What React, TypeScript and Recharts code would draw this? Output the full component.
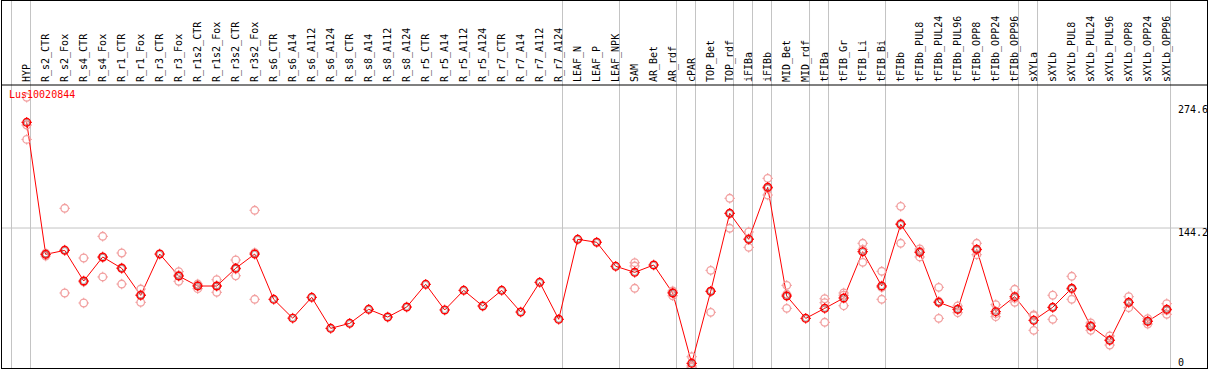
import React from "react";
import { ComposedChart, Line, XAxis, YAxis, ReferenceLine } from "recharts";

// sample groups shown across the top
const categories = [
  "HYP", "R_s2_CTR", "R_s2_Fox", "R_s4_CTR", "R_s4_Fox", "R_r1_CTR", "R_r1_Fox", "R_r3_CTR", "R_r3_Fox",
  "R_r1s2_CTR", "R_r1s2_Fox", "R_r3s2_CTR", "R_r3s2_Fox", "R_s6_CTR", "R_s6_A14", "R_s6_A112", "R_s6_A124",
  "R_s8_CTR", "R_s8_A14", "R_s8_A112", "R_s8_A124", "R_r5_CTR", "R_r5_A14", "R_r5_A112", "R_r5_A124",
  "R_r7_CTR", "R_r7_A14", "R_r7_A112", "R_r7_A124", "LEAF_N", "LEAF_P", "LEAF_NPK", "SAM", "AR_Bet", "AR_rdf",
  "cPAR", "TOP_Bet", "TOP_rdf", "iFIBa", "iFIBb", "MID_Bet", "MID_rdf", "tFIBa", "tFIB_Gr", "tFIB_Li", "tFIB_Bi",
  "tFIBb", "tFIBb_PUL8", "tFIBb_PUL24", "tFIBb_PUL96", "tFIBb_OPP8", "tFIBb_OPP24", "tFIBb_OPP96",
  "sXYLa", "sXYLb", "sXYLb_PUL8", "sXYLb_PUL24", "sXYLb_PUL96", "sXYLb_OPP8", "sXYLb_OPP24", "sXYLb_OPP96",
];

// mean expression per group
const means = [
  256.3, 116.3, 120.5, 88.0, 113.5, 101.5, 72.8, 116.6, 93.3, 82.7, 82.7, 101.5, 116.6, 68.6, 48.6, 70.7, 37.8,
  43.1, 58.0, 49.8, 60.4, 84.5, 57.3, 78.1, 61.5, 78.1, 55.1, 86.6, 47.4, 132.2, 129.1, 103.6, 97.2, 105.0, 75.3,
  0.7, 77.1, 159.8, 132.2, 187.4, 72.1, 48.4, 59.0, 70.0, 119.1, 82.7, 148.1, 118.4, 65.4, 58.0, 121.6, 55.5, 71.4,
  46.3, 60.1, 80.3, 40.0, 25.1, 65.4, 45.3, 58.0,
];

// individual replicates (null = not shown)
const rep1 = [
  282.8, 117.5, 165.1, 112.4, 135.4, 117.7, 79.5, null, 97.9, 84.8, 89.4, 110.3, 163.0, null, null, null, null,
  null, null, null, null, null, null, null, null, null, null, null, null, null, null, null, 107.4, null, 77.4,
  7.7, 99.3, 175.7, 140.0, 196.9, 83.4, null, 69.2, 75.3, 128.0, 98.3, 167.2, 122.0, 81.3, 61.5, 128.0, 62.9, 79.2,
  51.2, 72.9, 93.0, 43.5, 29.7, 71.4, 48.0, 64.0,
];
const rep2 = [
  238.2, 114.5, 75.3, 64.7, 92.3, 84.8, 65.4, null, 87.7, 79.9, 76.0, 93.6, 68.6, null, null, null, null,
  null, null, null, null, null, null, null, null, null, null, null, null, null, null, null, 80.3, null, 72.4,
  -3.5, 54.8, 143.9, 123.7, 179.2, 59.0, null, 44.2, 61.8, 107.8, 68.6, 128.0, 113.5, 48.4, 54.4, 115.9, 50.2, 65.4,
  35.7, 47.4, 68.6, 35.7, 20.1, 59.7, 42.4, 52.7,
];
const rep3 = [
  253.4, 116.5, 121.0, 87.0, 112.8, 102.0, 73.5, null, 94.3, 83.4, 82.7, 100.6, 118.0, null, null, null, null,
  null, null, null, null, null, null, null, null, null, null, null, null, null, null, null, 103.9, null, 76.0,
  -2.0, 77.2, 159.8, 132.9, 186.0, 73.9, null, 65.0, 72.9, 121.5, 81.2, 149.0, 119.7, 66.5, 58.0, 121.0, 53.4, 69.6,
  52.0, 60.0, 79.3, 40.8, 25.5, 65.0, 45.5, 57.0,
];

const yTicks = [0, 144.2, 274.6];
const gridValue = 144.2;
// index of the last group in each block (separator drawn just after it)
const groupEnds = [-1, 0, 28, 31, 34, 35, 37, 38, 39, 41, 42, 45, 52, 53, 60];
const geneId = "Lus10020844";

const data = categories.map((name, i) => ({
  idx: i,
  name,
  mean: means[i],
  r1: rep1[i],
  r2: rep2[i],
  r3: rep3[i],
}));

const FONT = "'DejaVu Sans Mono', monospace";

const CategoryTick = (props: any) => {
  const { x, y, payload } = props;
  return (
    <text
      transform={`translate(${x},${y}) rotate(-90)`}
      dy="0.35em"
      textAnchor="start"
      fontSize={10}
      fontFamily={FONT}
      fill="#000"
    >
      {categories[payload.value]}
    </text>
  );
};

// value label drawn inside the plot, left aligned in the right strip, top at the value
const valueLabel = (v: number) => (props: any) => {
  const vb = props.viewBox || {};
  const x = (vb.x ?? 0) + (vb.width ?? 0) - 29;
  const y = Math.min(vb.y ?? 0, 358);
  return (
    <text x={x} y={y} dy="0.75em" textAnchor="start" fontSize={10} fontFamily={FONT} fill="#000">
      {v}
    </text>
  );
};

// little "sight" marker: ring with tick marks at the four points
const marker = (color: string, r: number, w: number, inner?: string) => (props: any) => {
  const { cx, cy, value, index } = props;
  if (cy == null || value == null || isNaN(cy)) return <g key={index} />;
  return (
    <g key={index}>
      <circle cx={cx} cy={cy} r={r} fill="none" stroke={color} strokeWidth={w} />
      <line x1={cx} x2={cx} y1={cy - r - 1.5} y2={cy - r + 0.5} stroke={color} strokeWidth={1} />
      <line x1={cx} x2={cx} y1={cy + r - 0.5} y2={cy + r + 1.5} stroke={color} strokeWidth={1} />
      <line x1={cx - r - 1.5} x2={cx - r + 0.5} y1={cy} y2={cy} stroke={color} strokeWidth={1} />
      <line x1={cx + r - 0.5} x2={cx + r + 1.5} y1={cy} y2={cy} stroke={color} strokeWidth={1} />
      {inner && <circle cx={cx} cy={cy} r={r - 1.1} fill="none" stroke={inner} strokeWidth={0.5} strokeOpacity={0.6} />}
    </g>
  );
};

const SepShape = (p: any) => (
  <line x1={p.x1} x2={p.x2} y1={0} y2={Math.max(p.y1, p.y2)} stroke="#c4c4c4" strokeWidth={1} />
);

export default function App() {
  return (
    <div style={{ position: "absolute", left: 0, top: 0, width: 1209, height: 370, background: "#fff" }}>
      <ComposedChart width={1209} height={370} data={data} margin={{ top: 0, right: 2, bottom: 2, left: 1 }}>
        <XAxis
          dataKey="idx"
          type="number"
          orientation="top"
          domain={[-1.353, 62.12]}
          allowDataOverflow
          ticks={categories.map((_, i) => i)}
          interval={0}
          height={85}
          tick={CategoryTick}
          tickLine={false}
          tickSize={0}
          tickMargin={3}
          axisLine={{ stroke: "#000" }}
        />
        <YAxis type="number" hide domain={[-4.24, 295.87]} allowDataOverflow ticks={yTicks} />
        {yTicks.map((v) => (
          <ReferenceLine
            key={`t${v}`}
            y={v}
            stroke={v === gridValue ? "#c4c4c4" : "none"}
            label={valueLabel(v)}
          />
        ))}
        {groupEnds.map((g) => (
          <ReferenceLine key={g} x={g + 0.2} shape={SepShape} />
        ))}
        {["r1", "r2", "r3"].map((k) => (
          <Line
            key={k}
            dataKey={k}
            stroke="none"
            strokeWidth={0}
            dot={marker("#f2a0a0", 3.8, 1.3)}
            activeDot={false}
            isAnimationActive={false}
          />
        ))}
        <Line
          dataKey="mean"
          stroke="#ff0000"
          strokeWidth={1}
          dot={marker("#ff0000", 3.8, 1.4, "#000")}
          activeDot={false}
          isAnimationActive={false}
        />
      </ComposedChart>
      <div
        style={{
          position: "absolute",
          left: 1,
          top: 0,
          width: 1207,
          height: 369,
          border: "1px solid #000",
          boxSizing: "border-box",
          pointerEvents: "none",
        }}
      />
      <span
        style={{
          position: "absolute",
          left: 9,
          top: 90,
          fontFamily: FONT,
          fontSize: 10,
          lineHeight: "10px",
          color: "#ff0000",
        }}
      >
        {geneId}
      </span>
    </div>
  );
}
